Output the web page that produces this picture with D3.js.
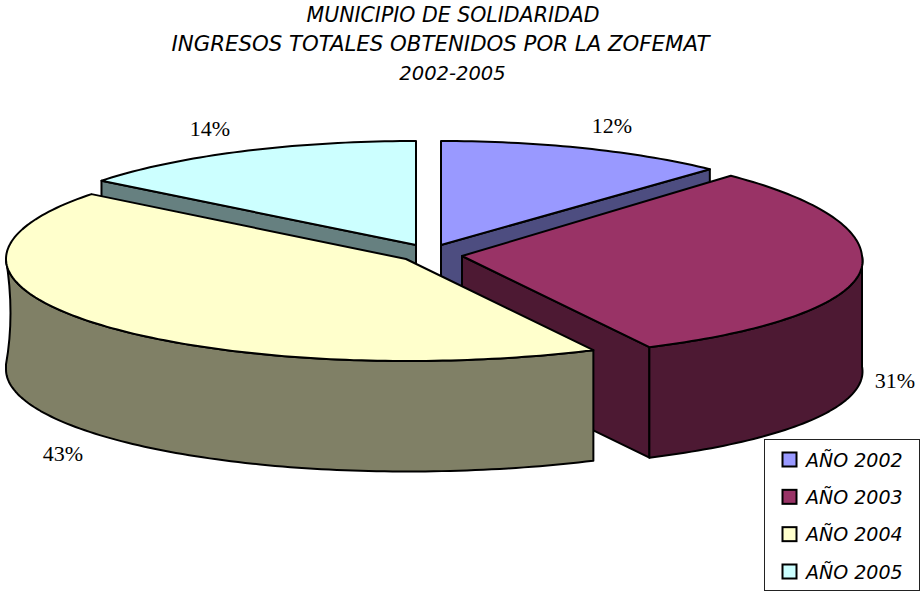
<!DOCTYPE html>
<html><head><meta charset="utf-8">
<script src="https://cdn.jsdelivr.net/npm/d3@7/dist/d3.min.js"></script>
<style>html,body{margin:0;background:#fff}svg{display:block}
.t{font-family:"DejaVu Sans";font-style:italic;fill:#000}
.p{font-family:"Liberation Serif";font-size:22px;fill:#000}</style>
</head><body><svg id="c" width="921" height="592"></svg>
<script>
const titleLines = ["MUNICIPIO DE SOLIDARIDAD","INGRESOS TOTALES OBTENIDOS POR LA ZOFEMAT","2002-2005"];
const categories = ["AÑO 2002","AÑO 2003","AÑO 2004","AÑO 2005"];
const shares = [12.0,30.6,43.0,14.4];
const percentLabels = ["12%","31%","43%","14%"];
const topColors = ["#9999FF","#993366","#FFFFCC","#CCFFFF"];
const sideColors = ["#4D4D80","#4D1933","#808066","#668080"];

// layout
const W=921,H=592,R=400,ryFront=102,depth=110.5,kBack=0.025,kFront=0.05;
const centers=[[441,245],[462,256],[406,259],[416,245]];
const ryBack=[104,110,105,104];
const labelAt=[[612,133],[895,388],[63,461],[210,136]];
const titleX=[453,440.5,452.5],titleSize=[20.5,21.3,19.5];
const drawOrder=[0,3,1,2];

const svg=d3.select("#c");
const arcs=d3.pie().sort(null).value(d=>d).startAngle(0).endAngle(2*Math.PI)(shares);

function pt(i,a,dz=0){
  const [cx,cy]=centers[i],s=Math.sin(a),c=Math.cos(a);
  const xs=s>0?R*s*(1-(c>0?kBack:kFront)*c):R*s;
  const ry=c>0?ryBack[i]:ryFront;
  return [cx+xs,cy-ry*c+dz];
}
function samples(i,a0,a1,dz=0){
  const n=Math.max(2,Math.ceil(Math.abs(a1-a0)/0.02));
  return d3.range(n+1).map(j=>pt(i,a0+(a1-a0)*j/n,dz));
}
const line=d3.line();
const sl={stroke:"#000","stroke-width":2,"stroke-linejoin":"round"};
function draw(p,fill){
  const e=svg.append("path").attr("d",p).attr("fill",fill);
  Object.entries(sl).forEach(([a,v])=>e.attr(a,v));
}
drawOrder.forEach(i=>{
  const d=arcs[i],a0=d.startAngle,a1=d.endAngle,[cx,cy]=centers[i],side=sideColors[i];
  const apex=[cx,cy],apexB=[cx,cy+depth];
  if(a0>Math.PI){const s=pt(i,a0);draw(line([apex,s,[s[0],s[1]+depth],apexB])+"Z",side);}
  if(a1<Math.PI){const e=pt(i,a1);draw(line([apex,e,[e[0],e[1]+depth],apexB])+"Z",side);}
  const w0=Math.max(a0,Math.PI/2),w1=Math.min(a1,3*Math.PI/2);
  if(w1>w0){
    const top=samples(i,w0,w1),bot=samples(i,w1,w0,depth);
    let p=line(top);
    const tl=top[top.length-1],bl=bot[0];
    if(w1===3*Math.PI/2){p+=`Q${tl[0]+9},${(tl[1]+bl[1])/2} ${bl[0]},${bl[1]-5}L`+bl.join(",");}
    else p+="L"+bl.join(",");
    p+=line(bot).replace(/^M/,"L")+"Z";
    draw(p,side);
  }
  draw(line([apex,...samples(i,a0,a1)])+"Z",topColors[i]);
});

percentLabels.forEach((t,i)=>svg.append("text").attr("class","p").attr("text-anchor","middle")
  .attr("x",labelAt[i][0]).attr("y",labelAt[i][1]).text(t));

titleLines.forEach((t,i)=>svg.append("text").attr("class","t").attr("text-anchor","middle")
  .attr("x",titleX[i]).attr("y",22+i*29).attr("font-size",titleSize[i]).text(t));

svg.append("rect").attr("x",764.5).attr("y",439.5).attr("width",155).attr("height",151)
  .attr("fill","#fff").attr("stroke","#222").attr("stroke-width",1);
const ly=d3.scalePoint().domain(categories).range([459.5,571.5]);
categories.forEach((c,i)=>{
  svg.append("rect").attr("x",782.5).attr("y",ly(c)-7).attr("width",14).attr("height",14)
    .attr("fill",topColors[i]).attr("stroke","#000").attr("stroke-width",2);
  svg.append("text").attr("class","t").attr("x",806).attr("y",ly(c)+7).attr("font-size",19).text(c);
});
</script></body></html>
